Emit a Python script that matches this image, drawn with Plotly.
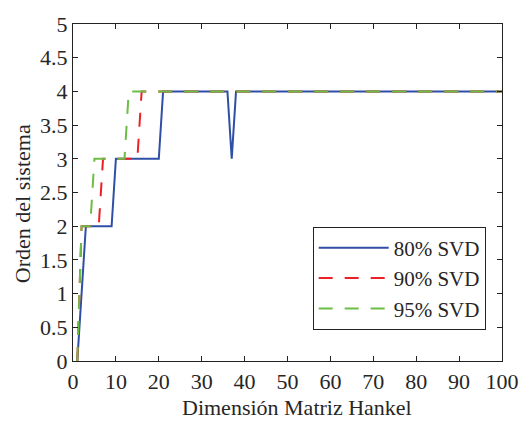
import plotly.graph_objects as go

# Hankel matrix dimension (x) and system order for each SVD energy threshold
dimension = list(range(1, 101))

order_80 = [
    0, 1, 2, 2, 2, 2, 2, 2, 2, 3,
    3, 3, 3, 3, 3, 3, 3, 3, 3, 3,
    4, 4, 4, 4, 4, 4, 4, 4, 4, 4,
    4, 4, 4, 4, 4, 4, 3, 4, 4, 4,
    4, 4, 4, 4, 4, 4, 4, 4, 4, 4,
    4, 4, 4, 4, 4, 4, 4, 4, 4, 4,
    4, 4, 4, 4, 4, 4, 4, 4, 4, 4,
    4, 4, 4, 4, 4, 4, 4, 4, 4, 4,
    4, 4, 4, 4, 4, 4, 4, 4, 4, 4,
    4, 4, 4, 4, 4, 4, 4, 4, 4, 4,
]

order_90 = [
    0, 2, 2, 2, 2, 2, 3, 3, 3, 3,
    3, 3, 3, 3, 3, 4, 4, 4, 4, 4,
    4, 4, 4, 4, 4, 4, 4, 4, 4, 4,
    4, 4, 4, 4, 4, 4, 4, 4, 4, 4,
    4, 4, 4, 4, 4, 4, 4, 4, 4, 4,
    4, 4, 4, 4, 4, 4, 4, 4, 4, 4,
    4, 4, 4, 4, 4, 4, 4, 4, 4, 4,
    4, 4, 4, 4, 4, 4, 4, 4, 4, 4,
    4, 4, 4, 4, 4, 4, 4, 4, 4, 4,
    4, 4, 4, 4, 4, 4, 4, 4, 4, 4,
]

order_95 = [
    0, 2, 2, 2, 3, 3, 3, 3, 3, 3,
    3, 3, 4, 4, 4, 4, 4, 4, 4, 4,
    4, 4, 4, 4, 4, 4, 4, 4, 4, 4,
    4, 4, 4, 4, 4, 4, 4, 4, 4, 4,
    4, 4, 4, 4, 4, 4, 4, 4, 4, 4,
    4, 4, 4, 4, 4, 4, 4, 4, 4, 4,
    4, 4, 4, 4, 4, 4, 4, 4, 4, 4,
    4, 4, 4, 4, 4, 4, 4, 4, 4, 4,
    4, 4, 4, 4, 4, 4, 4, 4, 4, 4,
    4, 4, 4, 4, 4, 4, 4, 4, 4, 4,
]

series_names = ["80% SVD", "90% SVD", "95% SVD"]

x_tick_vals = [0, 10, 20, 30, 40, 50, 60, 70, 80, 90, 100]
x_tick_text = ["0", "10", "20", "30", "40", "50", "60", "70", "80", "90", "100"]
y_tick_vals = [0, 0.5, 1, 1.5, 2, 2.5, 3, 3.5, 4, 4.5, 5]
y_tick_text = ["0", "0.5", "1", "1.5", "2", "2.5", "3", "3.5", "4", "4.5", "5"]

x_title = "Dimensión Matriz Hankel"
y_title = "Orden del sistema"

FONT = "'Times New Roman', 'Liberation Serif', 'DejaVu Serif', serif"
TXT = "#262626"

fig = go.Figure()
fig.add_trace(go.Scatter(x=dimension, y=order_80, mode="lines", name=series_names[0],
                         line=dict(color="#2f4fa6", width=2, dash="solid")))
fig.add_trace(go.Scatter(x=dimension, y=order_90, mode="lines", name=series_names[1],
                         line=dict(color="#ee1f25", width=2, dash="14px,12px")))
fig.add_trace(go.Scatter(x=dimension, y=order_95, mode="lines", name=series_names[2],
                         line=dict(color="#6cbd45", width=2, dash="14px,12px")))

axis_common = dict(
    showline=True, linecolor="#222", linewidth=1.3, mirror="ticks",
    ticks="inside", ticklen=5, tickcolor="#222", tickwidth=1,
    showgrid=False, zeroline=False,
    tickfont=dict(family=FONT, size=22, color=TXT),
)

fig.update_layout(
    width=531, height=421,
    margin=dict(l=73, r=24, t=20, b=60),
    paper_bgcolor="white", plot_bgcolor="white",
    font=dict(family=FONT, size=22, color=TXT),
    xaxis=dict(range=[0, 100], tickmode="array", tickvals=x_tick_vals, ticktext=x_tick_text,
               **axis_common),
    yaxis=dict(range=[0, 5], tickmode="array", tickvals=y_tick_vals, ticktext=y_tick_text,
               **axis_common),
    showlegend=True,
    legend=dict(x=0.962, y=0.093, xanchor="right", yanchor="bottom",
                bgcolor="white", bordercolor="#222", borderwidth=1,
                itemwidth=70,
                font=dict(family=FONT, size=21, color=TXT)),
    annotations=[
        dict(text=x_title, xref="paper", yref="paper", x=0.521, y=-0.138,
             xanchor="center", yanchor="middle", showarrow=False,
             font=dict(family=FONT, size=22, color=TXT)),
        dict(text=y_title, xref="paper", yref="paper", x=-0.116, y=0.466,
             xanchor="center", yanchor="middle", textangle=-90, showarrow=False,
             font=dict(family=FONT, size=22, color=TXT)),
    ],
)

fig.write_html("out.html")
